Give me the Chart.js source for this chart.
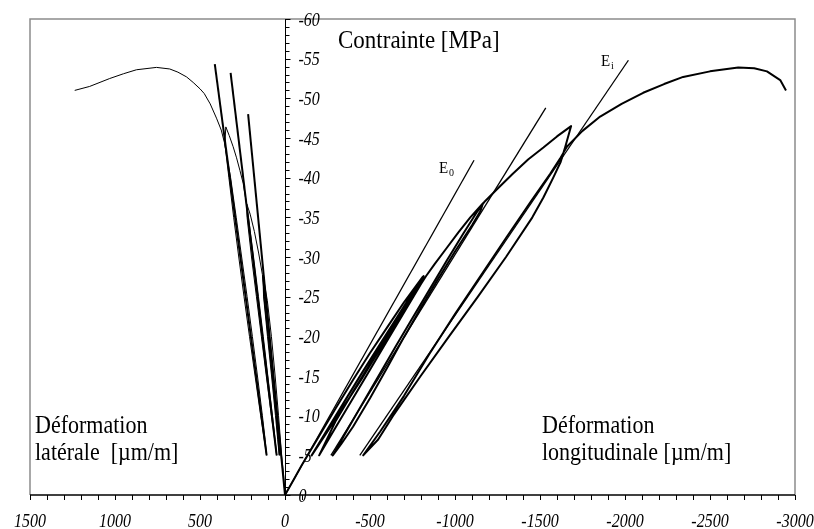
<!DOCTYPE html>
<html>
<head>
<meta charset="utf-8">
<script src="https://cdn.jsdelivr.net/npm/chart.js@4.4.1/dist/chart.umd.min.js"></script>
<style>
html,body{margin:0;padding:0;background:#fff;}
#wrap{width:814px;height:529px;}
</style>
</head>
<body>
<div id="wrap"><canvas id="c" width="814" height="529"></canvas></div>
<script>
// ---- Data (strain in µm/m, stress in MPa) ----
// Longitudinal strain curve (cyclic loading)
const longStrain = [0,-50,-100,-200,-300,-400,-500,-600,-700,-810,
  -795,-750,-650,-550,-450,-350,-250,-157,
  -250,-350,-450,-550,-650,-750,-815,
  -800,-700,-600,-500,-400,-300,-201,
  -300,-400,-500,-600,-700,-800,-830,-880,-950,-1020,-1090,-1165,
  -1150,-1100,-1000,-900,-800,-700,-600,-500,-400,-330,-281,
  -350,-450,-550,-650,-750,-850,-950,-1050,-1130,-1175,-1250,-1340,-1430,-1520,-1600,-1683,
  -1650,-1622,-1578,-1520,-1455,-1300,-1135,-965,-798,-636,-548,-460,
  -560,-700,-850,-1000,-1150,-1300,-1450,-1560,-1618,-1658,-1750,-1854,-1980,-2107,-2230,-2342,-2500,-2666,-2760,-2835,-2913,-2947];
const longStress = [0,-1.9,-3.8,-7.4,-11.0,-14.5,-17.9,-21.1,-24.3,-27.5,
  -26.6,-25.0,-21.6,-18.1,-14.6,-11.3,-8.0,-5.0,
  -8.3,-11.8,-15.3,-18.7,-22.1,-25.5,-27.6,
  -26.8,-23.5,-20.0,-16.5,-13.0,-9.4,-5.0,
  -8.6,-12.2,-15.8,-19.4,-23.0,-26.6,-27.6,-29.1,-31.1,-33.1,-35.0,-36.8,
  -35.8,-34.0,-30.7,-27.2,-23.6,-19.9,-16.0,-12.2,-8.6,-6.4,-5.0,
  -7.6,-11.3,-15.0,-18.7,-22.3,-25.9,-29.5,-33.0,-35.7,-37.0,-38.6,-40.5,-42.3,-43.8,-45.2,-46.5,
  -44.0,-42.0,-40.0,-37.5,-35.0,-30.0,-25.0,-20.0,-15.0,-10.0,-7.0,-5.0,
  -8.0,-12.5,-17.8,-22.8,-27.6,-32.4,-37.1,-40.5,-42.4,-43.9,-45.9,-47.7,-49.3,-50.7,-51.8,-52.7,-53.4,-53.9,-53.8,-53.4,-52.3,-51.0];

// Lateral strain curve (cyclic loading)
const latStrain = [0,8,20,38,58,80,104,128,
  124,100,76,52,39,30,
  48,70,94,118,130,
  126,103,79,56,43,34,
  52,74,98,121,133,155,180,205,225,
  223,197,168,139,110,80,61,49,
  58,74,101,128,156,185,215,228,246,265,285,305,328,348,
  354,330,302,272,241,209,176,143,122,108,
  117,133,162,192,223,255,287,320,356,375,403,440,475,500,540,579,630,678,756,874,950,1031,1149,1237];
const latStress = [0,-2.5,-5,-10,-15,-20,-24.5,-27.5,
  -25,-20,-15,-10,-7,-5,
  -10,-15,-20,-25,-27.6,
  -25,-20,-15,-10,-7,-5,
  -10,-15,-20,-25,-27.8,-30.5,-33.2,-35.4,-36.7,
  -35,-30,-25,-20,-15,-10,-7,-5,
  -7,-10,-15,-20,-25,-30,-35,-36.9,-39.3,-40.9,-42.5,-43.9,-45.3,-46.4,
  -44.3,-40,-35,-30,-25,-20,-15,-10,-7,-5,
  -7,-10,-15,-20,-25,-30,-35,-40,-44.4,-46.0,-47.5,-49.3,-50.6,-51.2,-52.0,-52.7,-53.3,-53.7,-53.9,-53.6,-53.1,-52.5,-51.5,-51.0];

// Tangent / secant modulus lines
const e0Strain = [0,-1112];      const e0Stress = [0,-42.2];
const e2Strain = [-270,-1534];   const e2Stress = [-5,-48.8];
const eiStrain = [-440,-2020];   const eiStress = [-5,-54.8];
const lat1Strain = [108,413];    const lat1Stress = [-5,-54.3];
const lat2Strain = [49,320];     const lat2Stress = [-5,-53.2];
const lat3Strain = [0,217];      const lat3Stress = [0,-48.0];

// Axis ticks
const xMajorTicks = [1500,1000,500,0,-500,-1000,-1500,-2000,-2500,-3000];
const xMajorLabels = ['1500','1000','500','0','-500','-1000','-1500','-2000','-2500','-3000'];
const yMajorTicks = [0,-5,-10,-15,-20,-25,-30,-35,-40,-45,-50,-55,-60];
const yMajorLabels = ['0','-5','-10','-15','-20','-25','-30','-35','-40','-45','-50','-55','-60'];
const xMinorStep = 100;
const yMinorStep = 1;

// Texts
const titleText = 'Contrainte [MPa]';
const latText = ['Déformation', 'latérale  [µm/m]'];
const longText = ['Déformation', 'longitudinale [µm/m]'];

function pts(xs, ys){ return xs.map((x,i)=>({x:x, y:ys[i]})); }
function ds(xs, ys, w){
  return {data: pts(xs,ys), showLine:true, borderColor:'#000', borderWidth:w,
          pointRadius:0, pointHoverRadius:0, fill:false, tension:0,
          borderJoinStyle:'round', borderCapStyle:'butt'};
}

const SERIF = "'Liberation Serif','Times New Roman',serif";
function stretchText(ctx, t, x, y, font, align, sy){
  ctx.save();
  ctx.font = font;
  ctx.textAlign = align || 'left';
  ctx.textBaseline = 'alphabetic';
  ctx.translate(x, y);
  ctx.scale(1, sy || 1.15);
  ctx.fillText(t, 0, 0);
  ctx.restore();
}

const axesPlugin = {
  id: 'axesPlugin',
  afterDraw(chart){
    const ctx = chart.ctx;
    const xs = chart.scales.x, ys = chart.scales.y;
    const a = chart.chartArea;
    ctx.save();
    // grey frame (left, top, right)
    ctx.strokeStyle = '#8c8c8c';
    ctx.lineWidth = 1.5;
    ctx.beginPath();
    ctx.moveTo(a.left, a.bottom); ctx.lineTo(a.left, a.top);
    ctx.lineTo(a.right, a.top); ctx.lineTo(a.right, a.bottom);
    ctx.stroke();
    // x axis line
    ctx.strokeStyle = '#000';
    ctx.lineWidth = 1.5;
    ctx.beginPath();
    ctx.moveTo(a.left, a.bottom); ctx.lineTo(a.right, a.bottom);
    ctx.stroke();
    // x ticks
    ctx.lineWidth = 1;
    ctx.beginPath();
    for(let v = xs.max; v >= xs.min - 1e-6; v -= xMinorStep){
      const px = Math.round(xs.getPixelForValue(v)) + 0.5;
      ctx.moveTo(px, a.bottom); ctx.lineTo(px, a.bottom + 5);
    }
    ctx.stroke();
    ctx.fillStyle = '#000';
    xMajorTicks.forEach((v,i)=>{
      stretchText(ctx, xMajorLabels[i], xs.getPixelForValue(v), a.bottom + 32, 'italic 16px ' + SERIF, 'center', 1.2);
    });
    // y axis at x = 0
    const x0 = Math.round(xs.getPixelForValue(0)) + 0.5;
    ctx.beginPath();
    ctx.moveTo(x0, a.bottom); ctx.lineTo(x0, a.top);
    ctx.stroke();
    ctx.beginPath();
    for(let v = 0; v >= ys.min - 1e-6; v -= yMinorStep){
      const py = Math.round(ys.getPixelForValue(v)) + 0.5;
      const major = Math.abs(v % 5) < 1e-6;
      ctx.moveTo(x0, py); ctx.lineTo(x0 + (major ? 5 : 4), py);
    }
    ctx.stroke();
    yMajorTicks.forEach((v,i)=>{
      stretchText(ctx, yMajorLabels[i], x0 + 13, ys.getPixelForValue(v) + 6.5, 'italic 16px ' + SERIF, 'left', 1.2);
    });
    // annotation texts
    stretchText(ctx, titleText, 338, 48, '23px ' + SERIF, 'left', 1.12);
    stretchText(ctx, latText[0], 35, 433, '22px ' + SERIF, 'left', 1.12);
    stretchText(ctx, latText[1], 35, 460, '22px ' + SERIF, 'left', 1.12);
    stretchText(ctx, longText[0], 542, 433, '22px ' + SERIF, 'left', 1.12);
    stretchText(ctx, longText[1], 542, 460, '22px ' + SERIF, 'left', 1.12);
    // modulus labels
    stretchText(ctx, 'E', 439, 173, '15px ' + SERIF, 'left', 1.1);
    stretchText(ctx, '0', 449, 176, '10px ' + SERIF, 'left', 1.1);
    stretchText(ctx, 'E', 601, 66, '15px ' + SERIF, 'left', 1.1);
    stretchText(ctx, 'i', 611, 69, '10px ' + SERIF, 'left', 1.1);
    ctx.restore();
  }
};

new Chart(document.getElementById('c').getContext('2d'), {
  type: 'scatter',
  data: {
    datasets: [
      ds(longStrain, longStress, 2),
      ds(latStrain, latStress, 1),
      ds(e0Strain, e0Stress, 1.3),
      ds(e2Strain, e2Stress, 1.3),
      ds(eiStrain, eiStress, 1.3),
      ds(lat1Strain, lat1Stress, 2),
      ds(lat2Strain, lat2Stress, 2),
      ds(lat3Strain, lat3Stress, 2)
    ]
  },
  options: {
    responsive: false,
    devicePixelRatio: 1,
    animation: false,
    events: [],
    layout: { padding: { left: 30, right: 19, top: 19, bottom: 34 } },
    scales: {
      x: { type: 'linear', min: -3000, max: 1500, reverse: true, display: false },
      y: { type: 'linear', min: -60, max: 0, reverse: true, display: false }
    },
    plugins: { legend: { display: false }, tooltip: { enabled: false } }
  },
  plugins: [axesPlugin]
});
</script>
</body>
</html>
